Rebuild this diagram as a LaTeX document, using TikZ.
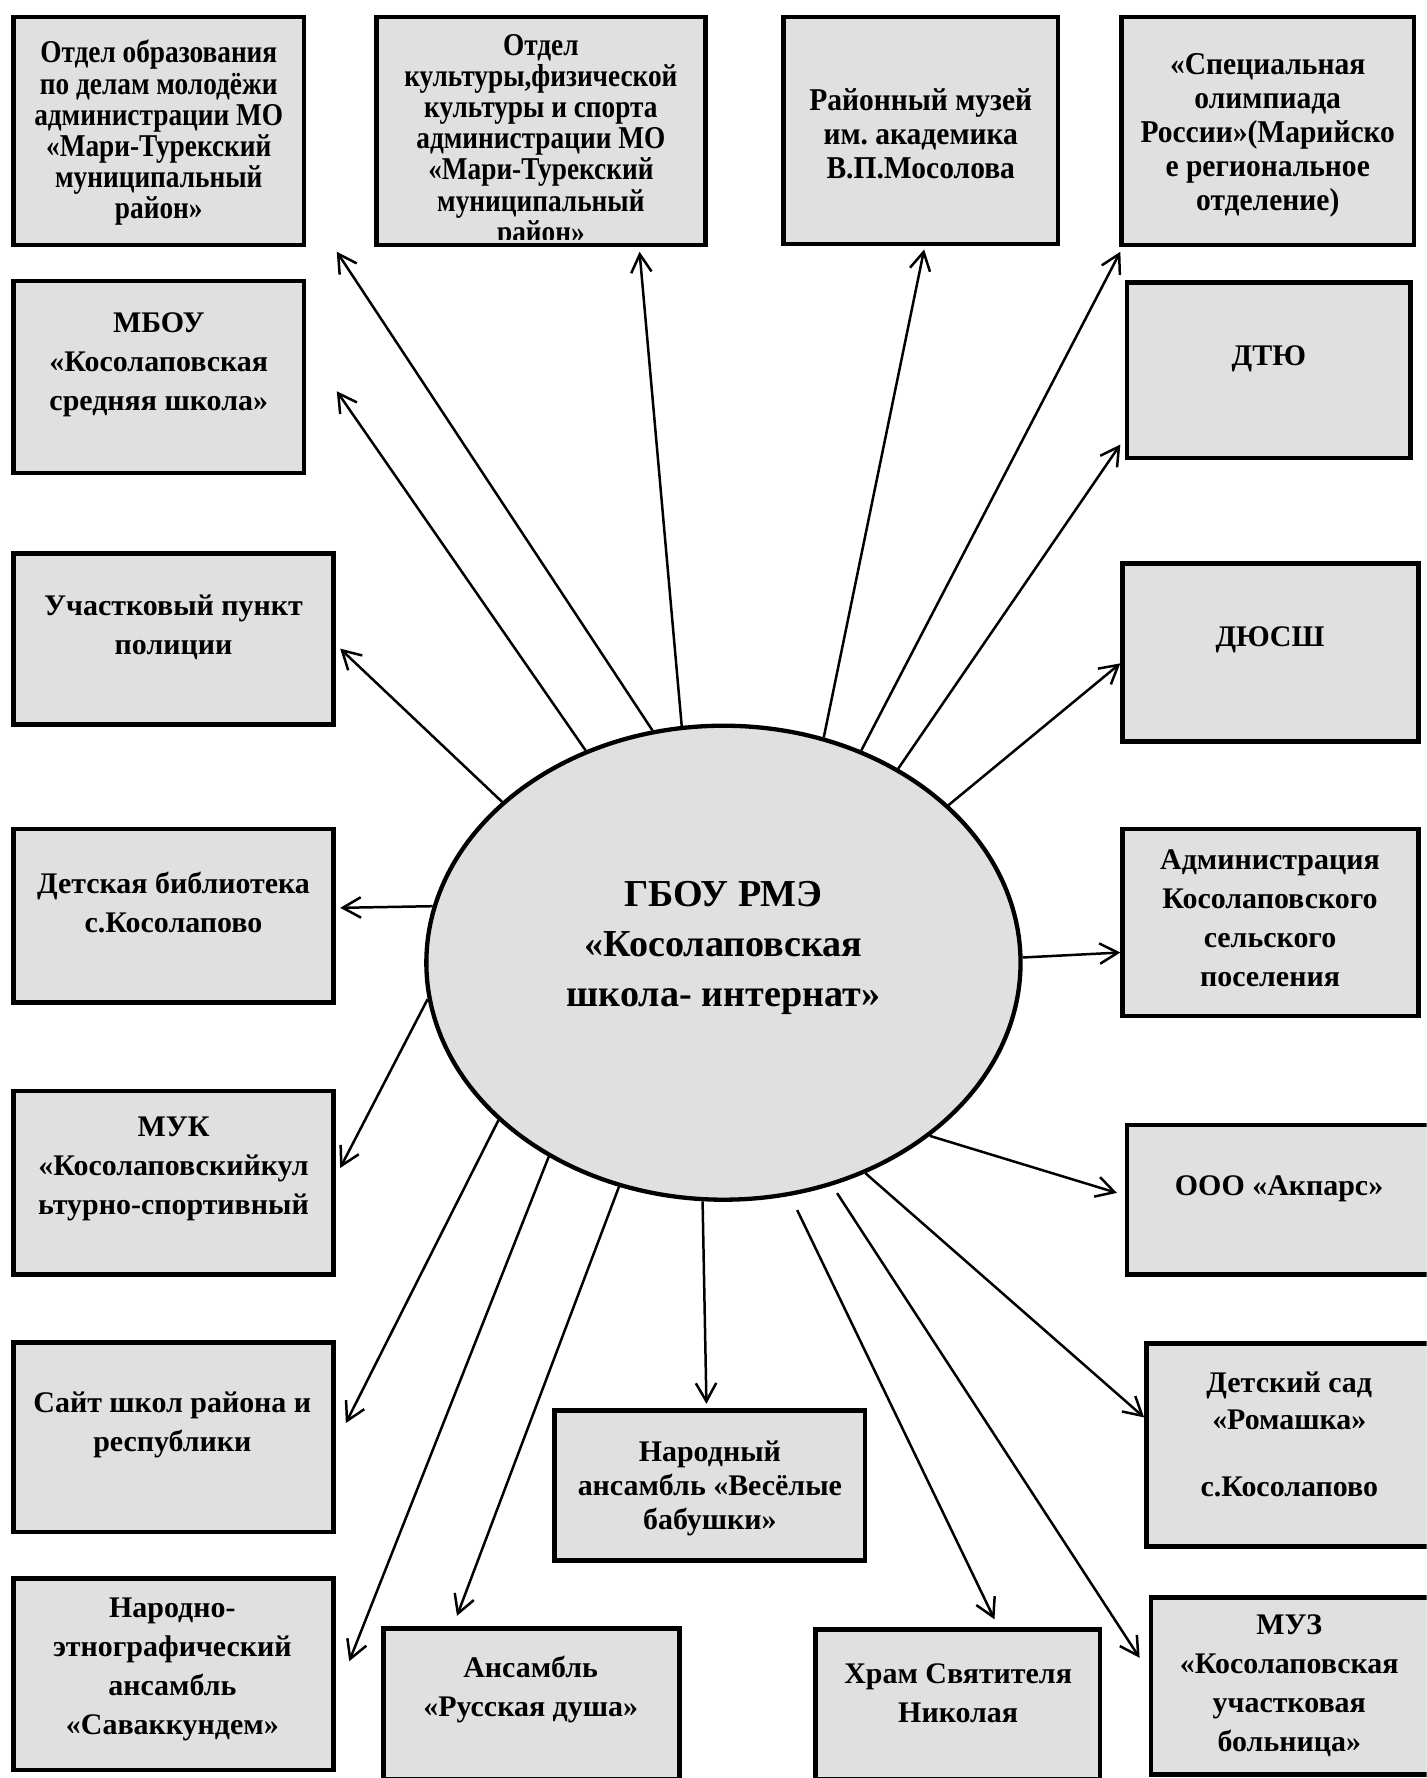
\documentclass[tikz,border=0pt]{standalone}
\usepackage{fontspec}
\setmainfont{Liberation Serif}
\newfontfamily\condA{Liberation Serif}[FakeStretch=0.86]
\newfontfamily\condB{Liberation Serif}[FakeStretch=0.93]
\usetikzlibrary{shapes.geometric,arrows.meta,calc}
\definecolor{boxfill}{HTML}{E0E0E0}
\frenchspacing
\newcommand\fntN{\lineskiplimit=-20pt\fontsize{13.2}{17.2}\selectfont\bfseries}
\newcommand\fntA{\lineskiplimit=-20pt\condA\fontsize{14}{13.7}\selectfont\bfseries}
\newcommand\fntB{\lineskiplimit=-20pt\condB\fontsize{14}{15}\selectfont\bfseries}
\newcommand\fntD{\lineskiplimit=-20pt\fontsize{13.2}{15}\selectfont\bfseries}
\newcommand\fntE{\lineskiplimit=-20pt\fontsize{13.2}{16.5}\selectfont\bfseries}
\newcommand\fntC{\lineskiplimit=-20pt\fontsize{16.8}{22.2}\selectfont\bfseries}
\begin{document}
\begin{tikzpicture}[x=0.5pt,y=-0.5pt,
  box/.style={draw, line width=2pt, fill=boxfill, rectangle, inner sep=0pt, outer sep=0pt},
  txt/.style={align=center, inner sep=0pt, font=\fntN},
  arr/.style={line width=1.1pt, -{Straight Barb[length=8pt,width=9pt]}}]
\clip (0,0) rectangle (1258,1568);
\fill[white] (0,0) rectangle (1258,1568);
% central ellipse
\node[ellipse, draw, line width=1.9pt, fill=boxfill, minimum width=262pt, minimum height=209pt, inner sep=0pt] (ell) at (638,849) {};
\node[txt, font=\fntC] (ct) at (638,836) {ГБОУ РМЭ\\«Косолаповская\\школа- интернат»};
% boxes
\node[box, minimum width=128pt, minimum height=100.5pt] (b1) at (140,115.5) {};
\node[txt, font=\fntA] (b1t) at (140,117) {Отдел образования\\по делам молодёжи\\администрации МО\\«Мари-Турекский\\муниципальный\\район»};
\node[box, minimum width=145pt, minimum height=100.5pt] (b2) at (477,115.5) {};
\begin{scope}
\clip ([shift={(1pt,-1pt)}]b2.north west) rectangle ($(b2.south east)+(-2,-5)$);
\node[txt, font=\fntA] (b2t) at (477,125) {Отдел\\культуры,физической\\культуры и спорта\\администрации МО\\«Мари-Турекский\\муниципальный\\район»};
\end{scope}
\node[box, minimum width=121pt, minimum height=100pt] (b3) at (812,115) {};
\node[txt, font=\fntB] (b3t) at (812,118) {Районный музей\\им. академика\\В.П.Мосолова};
\node[box, minimum width=129pt, minimum height=100.5pt] (b4) at (1118,115.5) {};
\node[txt, font=\fntB] (b4t) at (1118,119) {«Специальная\\олимпиада\\России»(Марийско\\е региональное\\отделение)};
\node[box, minimum width=128pt, minimum height=84.5pt] (b5) at (140,332.5) {};
\node[txt] (b5t) at (140,322) {МБОУ\\«Косолаповская\\средняя школа»};
\node[box, minimum width=125pt, minimum height=77.5pt] (b6) at (1119,326.5) {};
\node[txt] (b6t) at (1119,316) {ДТЮ};
\node[box, minimum width=141pt, minimum height=75.5pt] (b7) at (153,563.5) {};
\node[txt] (b7t) at (153,553) {Участковый пункт\\полиции};
\node[box, minimum width=130.5pt, minimum height=78.5pt] (b8) at (1120.5,575.5) {};
\node[txt] (b8t) at (1120,564) {ДЮСШ};
\node[box, minimum width=141pt, minimum height=76.5pt] (b9) at (153,807.5) {};
\node[txt] (b9t) at (153,796) {Детская библиотека\\с.Косолапово};
\node[box, minimum width=130.5pt, minimum height=82.5pt] (b10) at (1120.5,813.5) {};
\node[txt] (b10t) at (1120,810) {Администрация\\Косолаповского\\сельского\\поселения};
\node[box, minimum width=141pt, minimum height=81pt] (b11) at (153,1043) {};
\node[txt] (b11t) at (153,1031) {МУК\\«Косолаповскийкул\\ьтурно-спортивный};
\node[box, minimum width=135pt, minimum height=66pt] (b12) at (1129,1058) {};
\node[txt] (b12t) at (1128,1048) {ООО «Акпарс»};
\node[box, minimum width=141pt, minimum height=83.5pt] (b13) at (153,1267.5) {};
\node[txt] (b13t) at (152,1257) {Сайт школ района и\\республики};
\node[box, minimum width=137pt, minimum height=66pt] (b14) at (626,1310) {};
\node[txt, font=\fntD] (b14t) at (626,1313) {Народный\\ансамбль «Весёлые\\бабушки»};
\node[box, minimum width=127.5pt, minimum height=89.5pt] (b15) at (1138.5,1274.5) {};
\node[txt, font=\fntE] (b15t) at (1137,1265) {Детский сад\\«Ромашка»\\[13pt]с.Косолапово};
\node[box, minimum width=141pt, minimum height=84.5pt] (b16) at (153,1476.5) {};
\node[txt] (b16t) at (152,1472) {Народно-\\этнографический\\ансамбль\\«Саваккундем»};
\node[box, minimum width=130.5pt, minimum height=66.5pt] (b17) at (468.5,1502.5) {};
\node[txt] (b17t) at (468,1490) {Ансамбль\\«Русская душа»};
\node[box, minimum width=125.5pt, minimum height=66pt] (b18) at (844.5,1503) {};
\node[txt] (b18t) at (845,1493) {Храм Святителя\\Николая};
\node[box, minimum width=125.5pt, minimum height=78pt] (b19) at (1140.5,1487) {};
\node[txt] (b19t) at (1137,1487) {МУЗ\\«Косолаповская\\участковая\\больница»};
% arrow tips
\coordinate (t1) at (297,222);
\coordinate (t2) at (564,222);
\coordinate (t3) at (815,220);
\coordinate (t4) at (988,222);
\coordinate (t5) at (297,345);
\coordinate (t6) at (988,392);
\coordinate (t7) at (300,572);
\coordinate (t8) at (988,585);
\coordinate (t9) at (300,800.6);
\coordinate (t10) at (988,840);
\coordinate (t11) at (300,1030);
\coordinate (t12) at (985,1052);
\coordinate (t13) at (305,1255);
\coordinate (t14) at (623,1238);
\coordinate (t15) at (1009,1250);
\coordinate (t16) at (308,1465);
\coordinate (t17) at (403,1425);
\coordinate (t18) at (877,1428);
\coordinate (t19) at (1005,1462);
% arrows
\draw[arr] (ell.107.4) -- (t1);
\draw[arr] (ell.100.2) -- (t2);
\draw[arr] (ell.66.9) -- (t3);
\draw[arr] (ell.57.8) -- (t4);
\draw[arr] (ell.123.1) -- (t5);
\draw[arr] (ell.48) -- (t6);
\draw[arr] (ell.144.9) -- (t7);
\draw[arr] (ell.35.2) -- (t8);
\draw[arr] (ell.169.2) -- (t9);
\draw[arr] (ell.1.3) -- (t10);
\draw[arr] (ell.187.9) -- (t11);
\draw[arr] (ell.320.4) -- (t12);
\draw[arr] (ell.215.1) -- (t13);
\draw[arr] (ell.265.9) -- (t14);
\draw[arr] (ell.304) -- (t15);
\draw[arr] (ell.228) -- (t16);
\draw[arr] (ell.245.4) -- (t17);
\draw[arr, shorten <=7pt] (ell.286.6) -- (t18);
\draw[arr, shorten <=4pt] (ell.296) -- (t19);
\end{tikzpicture}
\end{document}
